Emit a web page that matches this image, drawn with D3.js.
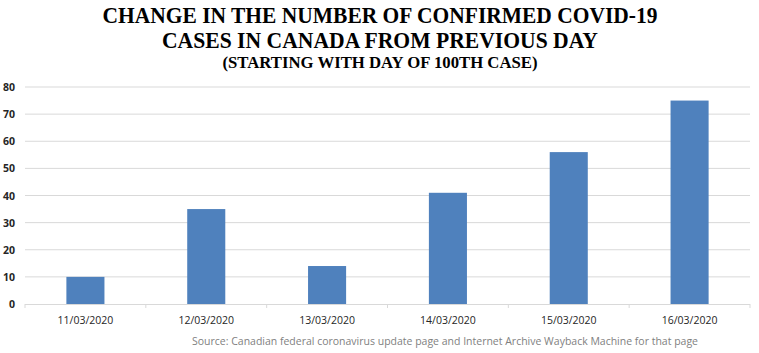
<!DOCTYPE html>
<html>
<head>
<meta charset="utf-8">
<script src="https://cdn.jsdelivr.net/npm/d3@7"></script>
<style>
  body { margin: 0; background: #fff; }
</style>
</head>
<body>
<div class="svg"></div>
<script>
var dates = ['11/03/2020', '12/03/2020', '13/03/2020', '14/03/2020', '15/03/2020', '16/03/2020'];
var newCases = [10, 35, 14, 41, 56, 75];
var yTicks = [0, 10, 20, 30, 40, 50, 60, 70, 80];

var width = 759;
var height = 353;

var svg = d3.select('div.svg')
    .append('svg')
    .attr('width', width)
    .attr('height', height)

var x = d3.scaleBand()
    .domain(dates)
    .range([25, 750])
    .paddingInner(0.685)
    .paddingOuter(0.3425)

var y = d3.scaleLinear()
    .domain([0, 80])
    .range([304, 87])

// title, squeezed like the original condensed serif
var titles = [
    { t: 'CHANGE IN THE NUMBER OF CONFIRMED COVID-19', y: 22.5, size: 23, len: 555 },
    { t: 'CASES IN CANADA FROM PREVIOUS DAY', y: 47.5, size: 23, len: 436 },
    { t: '(STARTING WITH DAY OF 100TH CASE)', y: 68, size: 16, len: 315 }
];
svg.selectAll('.title')
    .data(titles)
    .enter()
    .append('text')
    .attr('class', 'title')
    .attr('x', 380)
    .attr('y', d => d.y)
    .attr('text-anchor', 'middle')
    .attr('font-family', 'Liberation Serif, serif')
    .attr('font-weight', 'bold')
    .attr('font-size', d => d.size)
    .attr('textLength', d => d.len)
    .attr('lengthAdjust', 'spacingAndGlyphs')
    .attr('fill', '#000')
    .text(d => d.t)

// gridlines
svg.append('g')
    .selectAll('line')
    .data(yTicks.slice(1))
    .enter()
    .append('line')
    .attr('x1', 25)
    .attr('x2', 750)
    .attr('y1', d => y(d))
    .attr('y2', d => y(d))
    .attr('stroke', '#d9d9d9')
    .attr('stroke-width', 1)

// y labels
svg.append('g')
    .selectAll('text')
    .data(yTicks)
    .enter()
    .append('text')
    .attr('x', 15)
    .attr('y', d => y(d) + 4)
    .attr('text-anchor', 'end')
    .attr('font-family', 'Open Sans, sans-serif')
    .attr('font-weight', 'bold')
    .attr('font-size', 10.5)
    .attr('fill', '#262626')
    .text(d => d)

// bars
svg.append('g')
    .selectAll('rect')
    .data(newCases)
    .enter()
    .append('rect')
    .attr('x', (d, i) => x(dates[i]))
    .attr('y', d => y(d))
    .attr('width', x.bandwidth())
    .attr('height', d => y(0) - y(d))
    .attr('fill', '#4f81bd')

// x axis line with category separators
var xAxis = svg.append('g')
xAxis.append('line')
    .attr('x1', 25)
    .attr('x2', 750)
    .attr('y1', y(0) + 0.5)
    .attr('y2', y(0) + 0.5)
    .attr('stroke', '#d9d9d9')
var step = x.step();
xAxis.selectAll('.sep')
    .data(d3.range(dates.length + 1))
    .enter()
    .append('line')
    .attr('class', 'sep')
    .attr('x1', i => 25 + i * step)
    .attr('x2', i => 25 + i * step)
    .attr('y1', y(0))
    .attr('y2', y(0) + 4)
    .attr('stroke', '#d9d9d9')

xAxis.selectAll('text')
    .data(dates)
    .enter()
    .append('text')
    .attr('x', d => x(d) + x.bandwidth() / 2)
    .attr('y', 324)
    .attr('text-anchor', 'middle')
    .attr('font-family', 'Open Sans, sans-serif')
    .attr('font-size', 10.5)
    .attr('fill', '#262626')
    .text(d => d)

// source note
svg.append('text')
    .attr('x', 445)
    .attr('y', 345)
    .attr('text-anchor', 'middle')
    .attr('font-family', 'Open Sans, sans-serif')
    .attr('font-size', 11.5)
    .attr('textLength', 506)
    .attr('lengthAdjust', 'spacingAndGlyphs')
    .attr('fill', '#7f7f7f')
    .text('Source: Canadian federal coronavirus update page and Internet Archive Wayback Machine for that page')
</script>
</body>
</html>
